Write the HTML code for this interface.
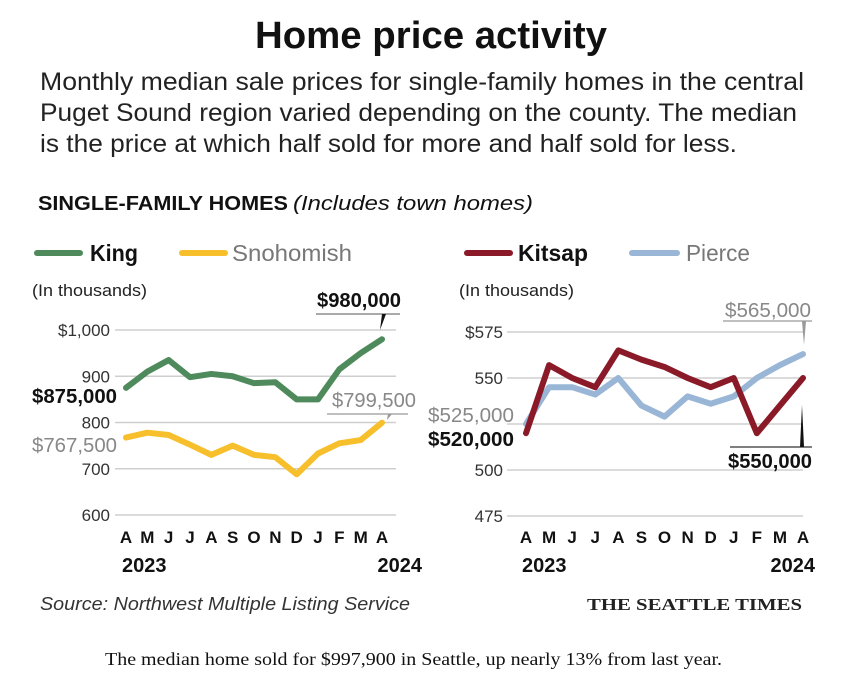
<!DOCTYPE html>
<html><head><meta charset="utf-8"><title>Home price activity</title>
<style>
html,body{margin:0;padding:0;background:#fff;}
svg{display:block;}
text{font-family:"Liberation Sans Narrow","Liberation Sans",sans-serif;}
.serif{font-family:"Liberation Serif",serif;}
.grid{stroke:#cfcfcf;stroke-width:1.5;}
.tick{font-size:17px;fill:#333;}
.mon{font-size:17px;fill:#111;font-weight:bold;}
.yr{font-size:20px;fill:#111;font-weight:bold;}
</style></head>
<body>
<svg id="chart" width="844" height="688" viewBox="0 0 844 688" xmlns="http://www.w3.org/2000/svg">
<text x="255" y="48" font-size="38" font-weight="bold" fill="#111" textLength="352" lengthAdjust="spacingAndGlyphs">Home price activity</text>
<g font-size="25" fill="#222">
<text x="40" y="90" textLength="764" lengthAdjust="spacingAndGlyphs">Monthly median sale prices for single-family homes in the central</text>
<text x="40" y="121" textLength="757" lengthAdjust="spacingAndGlyphs">Puget Sound region varied depending on the county. The median</text>
<text x="40" y="152" textLength="697" lengthAdjust="spacingAndGlyphs">is the price at which half sold for more and half sold for less.</text>
</g>
<text x="38" y="210" font-size="20" fill="#111"><tspan font-weight="bold" textLength="250" lengthAdjust="spacingAndGlyphs">SINGLE-FAMILY HOMES</tspan><tspan font-style="italic" dx="5" textLength="240" lengthAdjust="spacingAndGlyphs">(Includes town homes)</tspan></text>

<g>
<line x1="37" y1="253" x2="80" y2="253" stroke="#4e8a5c" stroke-width="6" stroke-linecap="round"/>
<text x="90" y="261" font-size="23" font-weight="bold" fill="#111" textLength="48" lengthAdjust="spacingAndGlyphs">King</text>
<line x1="182" y1="253" x2="225" y2="253" stroke="#f6bf2b" stroke-width="6" stroke-linecap="round"/>
<text x="232" y="261" font-size="23" fill="#777" textLength="120" lengthAdjust="spacingAndGlyphs">Snohomish</text>
</g>
<g>
<line x1="467" y1="253" x2="510" y2="253" stroke="#8b1a28" stroke-width="6" stroke-linecap="round"/>
<text x="518" y="261" font-size="23" font-weight="bold" fill="#111" textLength="70" lengthAdjust="spacingAndGlyphs">Kitsap</text>
<line x1="632" y1="253" x2="677" y2="253" stroke="#99b6d6" stroke-width="6" stroke-linecap="round"/>
<text x="686" y="261" font-size="23" fill="#777" textLength="64" lengthAdjust="spacingAndGlyphs">Pierce</text>
</g>

<text x="32" y="296" font-size="17" fill="#222" textLength="115" lengthAdjust="spacingAndGlyphs">(In thousands)</text>
<text x="459" y="296" font-size="17" fill="#222" textLength="115" lengthAdjust="spacingAndGlyphs">(In thousands)</text>

<g id="left"></g>
<g id="right"></g>

<g>
<text x="317" y="307" font-size="20" font-weight="bold" fill="#111" textLength="84" lengthAdjust="spacingAndGlyphs">$980,000</text>
<line x1="316" y1="314" x2="400" y2="314" stroke="#777" stroke-width="1.2"/>
<polygon points="380,330 382,314 386,314" fill="#111"/>
<text x="332" y="407" font-size="20" fill="#888" textLength="84" lengthAdjust="spacingAndGlyphs">$799,500</text>
<line x1="327" y1="414" x2="408" y2="414" stroke="#999" stroke-width="1.2"/>
<polygon points="387,420 388,414 392,414" fill="#999"/>
<text x="32" y="403" font-size="20" font-weight="bold" fill="#111" textLength="85" lengthAdjust="spacingAndGlyphs">$875,000</text>
<text x="32" y="452" font-size="20" fill="#888" textLength="85" lengthAdjust="spacingAndGlyphs">$767,500</text>

<text x="725" y="317" font-size="20" fill="#888" textLength="86" lengthAdjust="spacingAndGlyphs">$565,000</text>
<line x1="723" y1="321" x2="812" y2="321" stroke="#999" stroke-width="1.2"/>
<polygon points="802,321 806,321 804,345" fill="#999"/>
<text x="728" y="468" font-size="20" font-weight="bold" fill="#111" textLength="84" lengthAdjust="spacingAndGlyphs">$550,000</text>
<line x1="730" y1="447" x2="812" y2="447" stroke="#333" stroke-width="1.2"/>
<polygon points="800,447 804,447 802,405" fill="#111"/>
<text x="428" y="422" font-size="20" fill="#888" textLength="86" lengthAdjust="spacingAndGlyphs">$525,000</text>
<text x="428" y="446" font-size="20" font-weight="bold" fill="#111" textLength="86" lengthAdjust="spacingAndGlyphs">$520,000</text>
</g>

<text x="40" y="610" font-size="18" font-style="italic" fill="#333" textLength="370" lengthAdjust="spacingAndGlyphs">Source: Northwest Multiple Listing Service</text>
<text class="serif" x="587" y="610" font-size="17" font-weight="bold" fill="#222" textLength="215" lengthAdjust="spacingAndGlyphs">THE SEATTLE TIMES</text>
<text class="serif" x="105" y="665" font-size="18" fill="#111" textLength="617" lengthAdjust="spacingAndGlyphs">The median home sold for $997,900 in Seattle, up nearly 13% from last year.</text>
</svg>
<script>
const months = ["A","M","J","J","A","S","O","N","D","J","F","M","A"];
const kingValues = [875,910,935,898,905,900,885,887,850,850,915,950,980];
const snohomishValues = [767.5,778,773,752,730,750,730,725,688,733,755,762,799.5];
const kitsapValues = [520,557,550,545,565,560,556,550,545,550,520,535,550];
const pierceValues = [525,545,545,541,550,535,529,540,536,540,550,557,563];
const leftTicks = [1000,900,800,700,600];
const leftTickLabels = ["$1,000","900","800","700","600"];
const rightTicks = [575,550,525,500,475];
const rightTickLabels = ["$575","550","","500","475"];

const NS = "http://www.w3.org/2000/svg";
function mk(tag, attrs, parent){const e=document.createElementNS(NS,tag);for(const k in attrs)e.setAttribute(k,attrs[k]);parent.appendChild(e);return e;}

function panel(g, cfg){
  const x = i => cfg.x0 + i*(cfg.x1-cfg.x0)/(months.length-1);
  const y = v => cfg.yTop + (cfg.vTop - v)*(cfg.yBot-cfg.yTop)/(cfg.vTop-cfg.vBot);
  cfg.ticks.forEach((t,i)=>{
    const ln = mk("line",{x1:cfg.gx0,x2:cfg.gx1,y1:y(t),y2:y(t),class:"grid"},g);
    
    
    const tx = mk("text",{x:cfg.labelX,y:y(t)+6,"text-anchor":"end",class:"tick"},g);
    tx.textContent = cfg.tickLabels[i];
    
    
  });
  months.forEach((m,i)=>{
    const tx = mk("text",{x:x(i),y:543,"text-anchor":"middle",class:"mon"},g);
    tx.textContent = m;
    
    
  });
  const y1 = mk("text",{x:x(0)-4,y:572,class:"yr"},g);
  y1.textContent="2023";
  
  
  const y2 = mk("text",{x:cfg.yearEnd,y:572,"text-anchor":"end",class:"yr"},g);
  y2.textContent="2024";
  
  
  cfg.series.forEach(s=>{
    const p = mk("polyline",{points:s.values.map((v,i)=>x(i)+","+y(v)).join(" "),fill:"none",stroke:s.color,"stroke-width":6,"stroke-linejoin":"round","stroke-linecap":"round"},g);
    
    
  });
}
panel(document.getElementById("left"),{x0:126,x1:382,gx0:115,gx1:396,yTop:330,yBot:515,vTop:1000,vBot:600,labelX:110,yearEnd:422,
  ticks:leftTicks,tickLabels:leftTickLabels,
  series:[{values:snohomishValues,color:"#f6bf2b",name:"snohomish-line"},{values:kingValues,color:"#4e8a5c",name:"king-line"}]});
panel(document.getElementById("right"),{x0:526,x1:803,gx0:507,gx1:803,yTop:332,yBot:516,vTop:575,vBot:475,labelX:503,yearEnd:815,
  ticks:rightTicks,tickLabels:rightTickLabels,
  series:[{values:pierceValues,color:"#99b6d6",name:"pierce-line"},{values:kitsapValues,color:"#8b1a28",name:"kitsap-line"}]});
</script>
</body></html>
